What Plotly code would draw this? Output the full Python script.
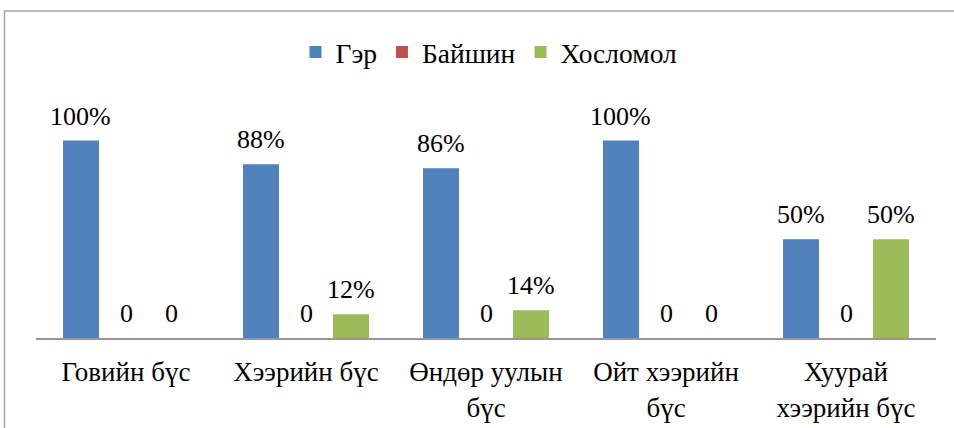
import plotly.graph_objects as go

categories = ["Говийн бүс", "Хээрийн бүс", "Өндөр уулын<br>бүс", "Ойт хээрийн<br>бүс", "Хуурай<br>хээрийн бүс"]
series_names = ["Гэр", "Байшин", "Хосломол"]
ger = [100, 88, 86, 100, 50]
baishin = [0, 0, 0, 0, 0]
hoslomol = [0, 12, 14, 0, 50]
colors = ["#4F81BD", "#C0504D", "#9BBB59"]

FONT = "'Times New Roman', 'Liberation Serif', 'DejaVu Serif', serif"
fig = go.Figure()
all_vals = [ger, baishin, hoslomol]
for name, vals, col in zip(series_names, all_vals, colors):
    fig.add_trace(go.Bar(name=name, x=categories, y=vals, marker=dict(color=col, line=dict(width=0))))

# data labels
slot = 45.05
for i, vals in enumerate(all_vals):
    for c, v in zip(categories, vals):
        fig.add_annotation(x=c, y=v, xref="x", yref="y", text=(f"{v}%" if v else "0"),
                           showarrow=False, xshift=(i - 1) * slot, yshift=8, yanchor="bottom",
                           font=dict(family=FONT, size=26, color="#000000"))

W, H = 954, 428
L, R, T, B = 36, 18, 101, 90
pw, ph = W - L - R, H - T - B
fig.add_shape(type="rect", xref="paper", yref="paper",
              x0=(4.5 - L) / pw, x1=(W + 10 - L) / pw, y0=-(H + 20 - (H - B)) / ph, y1=(H - B - 11) / ph,
              line=dict(color="#A6A6A6", width=1.5), fillcolor="rgba(0,0,0,0)", layer="below")

fig.update_layout(
    width=W, height=H,
    margin=dict(l=L, r=R, t=T, b=B, autoexpand=False),
    paper_bgcolor="white", plot_bgcolor="white",
    barmode="group", bargap=0.25, bargroupgap=0.2,
    font=dict(family=FONT, size=26, color="#000000"),
    showlegend=True,
    legend=dict(orientation="h", x=(489 - L) / pw, xanchor="center", y=(H - B - 52) / ph, yanchor="middle",
                font=dict(family=FONT, size=27.5, color="#000000"), itemwidth=30, traceorder="normal"),
    xaxis=dict(showline=True, linecolor="#969696", linewidth=2, ticks="", showgrid=False, automargin=False,
               ticklabelstandoff=9,
               tickfont=dict(family=FONT, size=27, color="#000000")),
    yaxis=dict(visible=False, range=[0, 120], showgrid=False, zeroline=False, automargin=False),
)

fig.write_html("out.html", config={"displayModeBar": False},
               post_script="document.body.style.margin='0';document.body.style.overflow='hidden';")
